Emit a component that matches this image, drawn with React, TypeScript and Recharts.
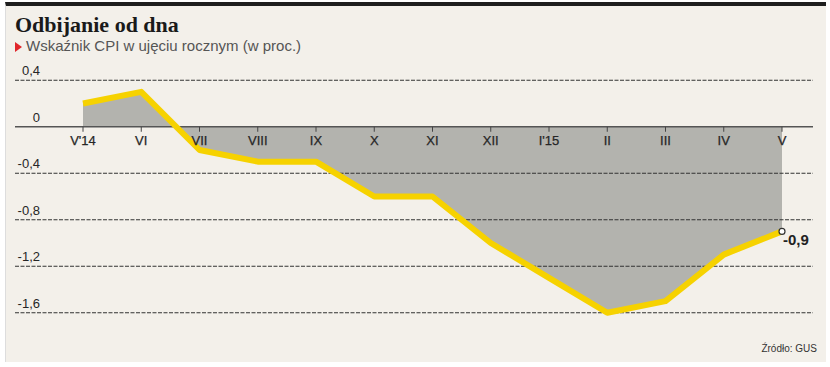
import React from "react";
import {
  ComposedChart,
  Area,
  Line,
  XAxis,
  YAxis,
  ReferenceLine,
  ReferenceDot,
} from "recharts";

const months = ["V'14", "VI", "VII", "VIII", "IX", "X", "XI", "XII", "I'15", "II", "III", "IV", "V"];
const cpi = [0.2, 0.3, -0.2, -0.3, -0.3, -0.6, -0.6, -1.0, -1.3, -1.6, -1.5, -1.1, -0.9];
const yTicks = [0.4, 0, -0.4, -0.8, -1.2, -1.6];

const data = months.map((m, i) => ({ month: m, value: cpi[i] }));

const fmt = (v: number) => String(v).replace(".", ",");

const SANS = "'Liberation Sans', Arial, sans-serif";

function YLabel(props: any) {
  const { viewBox, value } = props;
  return (
    <text
      x={viewBox.x + 25}
      y={viewBox.y - 5}
      textAnchor="end"
      fontFamily={SANS}
      fontSize={13}
      fill="#262626"
    >
      {value}
    </text>
  );
}

function MonthTick(props: any) {
  const { cx, cy, label } = props;
  return (
    <g>
      <line x1={cx} x2={cx} y1={cy} y2={cy + 5} stroke="#444" strokeWidth={1} />
      <text
        x={cx}
        y={cy + 18}
        textAnchor="middle"
        fontFamily={SANS}
        fontSize={13}
        fill="#262626"
        stroke="#262626"
        strokeWidth={0.25}
      >
        {label}
      </text>
    </g>
  );
}

function LastDot(props: any) {
  const { cx, cy, index, value } = props;
  if (index !== data.length - 1) return <g key={`d${index}`} />;
  const v = Array.isArray(value) ? value[1] : value;
  return (
    <g key={`d${index}`}>
      <circle cx={cx} cy={cy} r={3} fill="#fff" stroke="#333" strokeWidth={1.2} />
      <text
        x={cx + 1}
        y={cy + 14}
        fontFamily={SANS}
        fontWeight="bold"
        fontSize={15}
        fill="#222"
      >
        {fmt(v)}
      </text>
    </g>
  );
}

export default function App() {
  return (
    <div
      style={{
        position: "absolute",
        left: 0,
        top: 0,
        width: 830,
        height: 367,
        background: "#fff",
      }}
    >
      <div
        style={{
          position: "absolute",
          left: 5,
          top: 2,
          width: 821,
          height: 360,
          background: "#f3f0ea",
          borderTop: "4px solid #1e1e1e",
          borderLeft: "1px solid #ddd",
          boxSizing: "border-box",
        }}
      />
      <div
        style={{
          position: "absolute",
          left: 15,
          top: 11,
          fontFamily: "'Liberation Serif', 'DejaVu Serif', serif",
          fontWeight: "bold",
          fontSize: 22,
          color: "#1a1a1a",
          lineHeight: "27px",
          whiteSpace: "nowrap",
        }}
      >
        Odbijanie od dna
      </div>
      <div
        style={{
          position: "absolute",
          left: 15,
          top: 37,
          fontFamily: SANS,
          fontSize: 15,
          color: "#555",
          lineHeight: "18px",
          whiteSpace: "nowrap",
        }}
      >
        <span
          style={{
            display: "inline-block",
            width: 0,
            height: 0,
            borderTop: "5px solid transparent",
            borderBottom: "5px solid transparent",
            borderLeft: "7px solid #e0262b",
            marginRight: 4,
            verticalAlign: "-1px",
          }}
        />
        Wskaźnik CPI w ujęciu rocznym (w proc.)
      </div>
      <div style={{ position: "absolute", left: 0, top: 0 }}>
        <ComposedChart
          width={830}
          height={367}
          data={data}
          margin={{ top: 57, right: 17, bottom: 31, left: 15 }}
        >
          <XAxis dataKey="month" hide padding={{ left: 68, right: 31 }} />
          <YAxis hide domain={[-1.8, 0.6]} type="number" allowDataOverflow />
          <Area
            dataKey="value"
            type="linear"
            baseValue={0}
            fill="#b3b3ae"
            fillOpacity={1}
            stroke="none"
            isAnimationActive={false}
          />
          {yTicks.map((t) => (
            <ReferenceLine
              key={t}
              y={t}
              stroke={t === 0 ? "#555" : "#333"}
              strokeWidth={t === 0 ? 1.5 : 1.2}
              strokeDasharray={t === 0 ? undefined : "4 1.5"}
              label={<YLabel value={fmt(t)} />}
            />
          ))}
          {months.map((m) => (
            <ReferenceDot
              key={m}
              x={m}
              y={0}
              r={0}
              shape={(p: any) => <MonthTick {...p} label={m} />}
            />
          ))}
          <Line
            dataKey="value"
            type="linear"
            stroke="#f6d200"
            strokeWidth={6}
            strokeLinejoin="round"
            dot={LastDot}
            activeDot={false}
            isAnimationActive={false}
          />
        </ComposedChart>
      </div>
      <div
        style={{
          position: "absolute",
          right: 13,
          top: 343,
          fontFamily: SANS,
          fontSize: 10,
          color: "#333",
          whiteSpace: "nowrap",
        }}
      >
        Źródło: GUS
      </div>
    </div>
  );
}
